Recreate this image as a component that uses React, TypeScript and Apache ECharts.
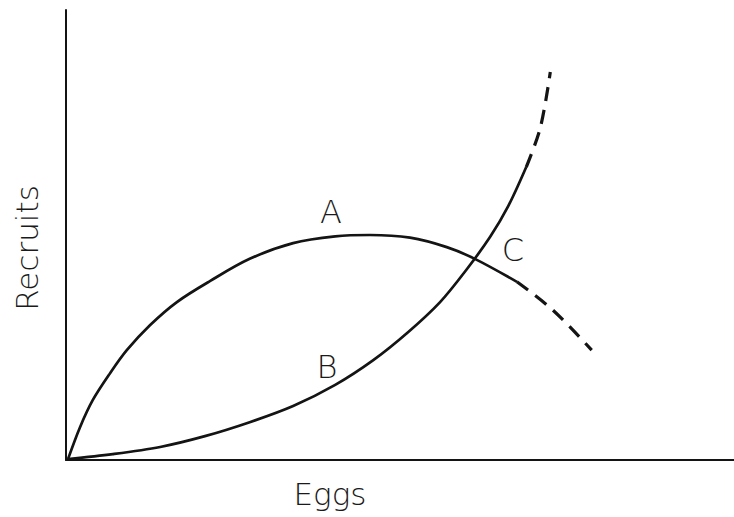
import React, { useEffect, useRef } from "react";
import * as echarts from "echarts";

// Stock–recruitment curves (arbitrary units, 0–100 on each axis)
const curveASolid: [number, number][] = [
  [0.3, 0.2], [2.1, 7.3], [4.0, 13.3], [6.6, 19.3], [9.1, 24.4], [12.6, 30.0],
  [16.6, 35.1], [21.6, 39.8], [27.5, 44.7], [34.0, 48.2], [40.3, 49.7],
  [45.5, 50.0], [51.5, 49.4], [57.0, 47.3], [61.2, 44.7], [67.5, 39.6],
];
const curveADashed: [number, number][] = [
  [67.5, 39.6], [72.9, 33.3], [78.7, 24.4],
];
const curveBSolid: [number, number][] = [
  [0.3, 0.2], [7.0, 1.3], [14.1, 2.9], [20.8, 5.3], [27.5, 8.4], [34.0, 12.0],
  [40.3, 16.7], [46.0, 22.2], [51.2, 28.4], [56.0, 35.1], [60.0, 42.4],
  [63.5, 49.6], [66.2, 56.4], [68.9, 65.1],
];
const curveBDashed: [number, number][] = [
  [68.9, 65.1], [71.0, 73.8], [72.5, 86.2],
];

const xAxisTitle = "Eggs";
const yAxisTitle = "Recruits";
const curveLabels = ["A", "B", "C"];

const INK = "#141414";
const FONT = "'DejaVu Sans', 'Liberation Sans', sans-serif";

export default function App() {
  const ref = useRef<HTMLDivElement>(null);

  useEffect(() => {
    if (!ref.current) return;
    const chart = echarts.init(ref.current, undefined, { renderer: "svg" });

    const lineSeries = (data: [number, number][], dashed: boolean) => ({
      type: "line",
      data,
      smooth: 0.33,
      showSymbol: false,
      symbol: "none",
      lineStyle: {
        color: INK,
        width: dashed ? 3.2 : 2.7,
        type: dashed ? [14, 9] : "solid",
        cap: "butt",
      },
      silent: true,
    });

    const textStyle = (size: number) => ({
      fill: "#1a1a1a",
      fontFamily: FONT,
      fontWeight: 200,
      fontSize: size,
      textAlign: "center",
      textVerticalAlign: "middle",
    });

    chart.setOption({
      animation: false,
      backgroundColor: "#ffffff",
      grid: { left: 66, right: 0, top: 10, bottom: 57 },
      xAxis: {
        type: "value",
        min: 0,
        max: 100,
        axisLine: { show: true, lineStyle: { color: INK, width: 2 } },
        axisTick: { show: false },
        axisLabel: { show: false },
        splitLine: { show: false },
      },
      yAxis: {
        type: "value",
        min: 0,
        max: 100,
        axisLine: { show: true, lineStyle: { color: INK, width: 2 } },
        axisTick: { show: false },
        axisLabel: { show: false },
        splitLine: { show: false },
      },
      series: [
        lineSeries(curveASolid, false),
        lineSeries(curveADashed, true),
        lineSeries(curveBSolid, false),
        lineSeries(curveBDashed, true),
      ],
      graphic: [
        { type: "text", x: 331, y: 212, style: { ...textStyle(32), text: curveLabels[0] } },
        { type: "text", x: 327, y: 367, style: { ...textStyle(32), text: curveLabels[1] } },
        { type: "text", x: 513, y: 250, style: { ...textStyle(32), text: curveLabels[2] } },
        { type: "text", x: 330, y: 494, style: { ...textStyle(31), text: xAxisTitle } },
        {
          type: "text",
          x: 27,
          y: 248,
          rotation: Math.PI / 2,
          style: { ...textStyle(31), text: yAxisTitle },
        },
      ],
    });

    return () => chart.dispose();
  }, []);

  return (
    <div
      ref={ref}
      style={{ position: "fixed", left: 0, top: 0, width: 734, height: 517, background: "#fff" }}
    />
  );
}
